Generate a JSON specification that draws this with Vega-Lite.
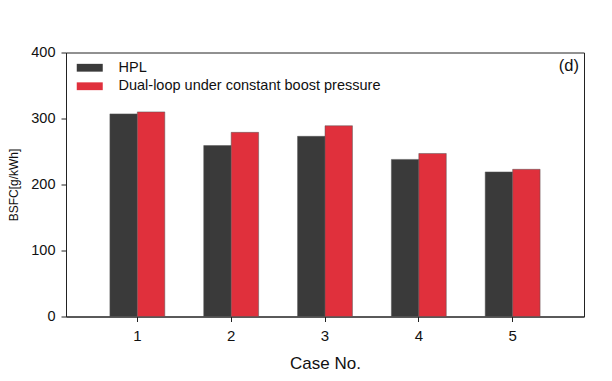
{
  "$schema": "https://vega.github.io/schema/vega-lite/v6.json",
  "width": 518,
  "height": 264,
  "autosize": {"type": "none"},
  "padding": {"left": 66, "top": 52.5, "right": 28, "bottom": 64.5},
  "background": "white",
  "config": {
    "font": "Liberation Sans",
    "view": {"stroke": "#222", "strokeWidth": 1},
    "axis": {"grid": false, "domainColor": "#222", "tickColor": "#222", "labelColor": "#111", "titleColor": "#111", "labelFont": "Liberation Sans", "titleFont": "Liberation Sans", "titleFontWeight": "normal"}
  },
  "title": {"text": "(d)", "anchor": "end", "orient": "top", "fontSize": 16.5, "fontWeight": "normal", "color": "#111", "baseline": "middle", "dx": -5, "dy": 42},
  "data": {
    "values": [
      {"case": "1", "series": "HPL", "bsfc": 307},
      {"case": "1", "series": "Dual-loop under constant boost pressure", "bsfc": 310},
      {"case": "2", "series": "HPL", "bsfc": 259},
      {"case": "2", "series": "Dual-loop under constant boost pressure", "bsfc": 279},
      {"case": "3", "series": "HPL", "bsfc": 273},
      {"case": "3", "series": "Dual-loop under constant boost pressure", "bsfc": 289},
      {"case": "4", "series": "HPL", "bsfc": 238},
      {"case": "4", "series": "Dual-loop under constant boost pressure", "bsfc": 247},
      {"case": "5", "series": "HPL", "bsfc": 219},
      {"case": "5", "series": "Dual-loop under constant boost pressure", "bsfc": 223}
    ]
  },
  "mark": {"type": "bar", "stroke": "#555", "strokeWidth": 0.5},
  "encoding": {
    "x": {
      "field": "case", "type": "nominal",
      "scale": {"paddingInner": 0.415, "paddingOuter": 0.468},
      "axis": {"title": "Case No.", "labelAngle": 0, "labelFontSize": 15, "tickSize": 5, "labelPadding": 7, "titleFontSize": 17, "titlePadding": 12}
    },
    "xOffset": {"field": "series", "type": "nominal", "scale": {"domain": ["HPL", "Dual-loop under constant boost pressure"]}},
    "y": {
      "field": "bsfc", "type": "quantitative",
      "scale": {"domain": [0, 400], "nice": false},
      "axis": {"title": "BSFC[g/kWh]", "values": [0, 100, 200, 300, 400], "labelFontSize": 14.5, "tickSize": 5, "labelPadding": 6, "titleFontSize": 12, "titlePadding": 10}
    },
    "color": {
      "field": "series", "type": "nominal",
      "scale": {"domain": ["HPL", "Dual-loop under constant boost pressure"], "range": ["#3a3a3a", "#e0303c"]},
      "legend": {
        "title": null, "orient": "none", "legendX": 16.5, "legendY": 8, "padding": 0,
        "symbolType": "M-2,-0.6H2V0.6H-2Z", "symbolSize": 169, "symbolStrokeWidth": 0, "symbolOpacity": 1,
        "labelFontSize": 14.5, "labelOffset": 21.5, "labelColor": "#111", "labelLimit": 0, "rowPadding": 3.5
      }
    }
  }
}
